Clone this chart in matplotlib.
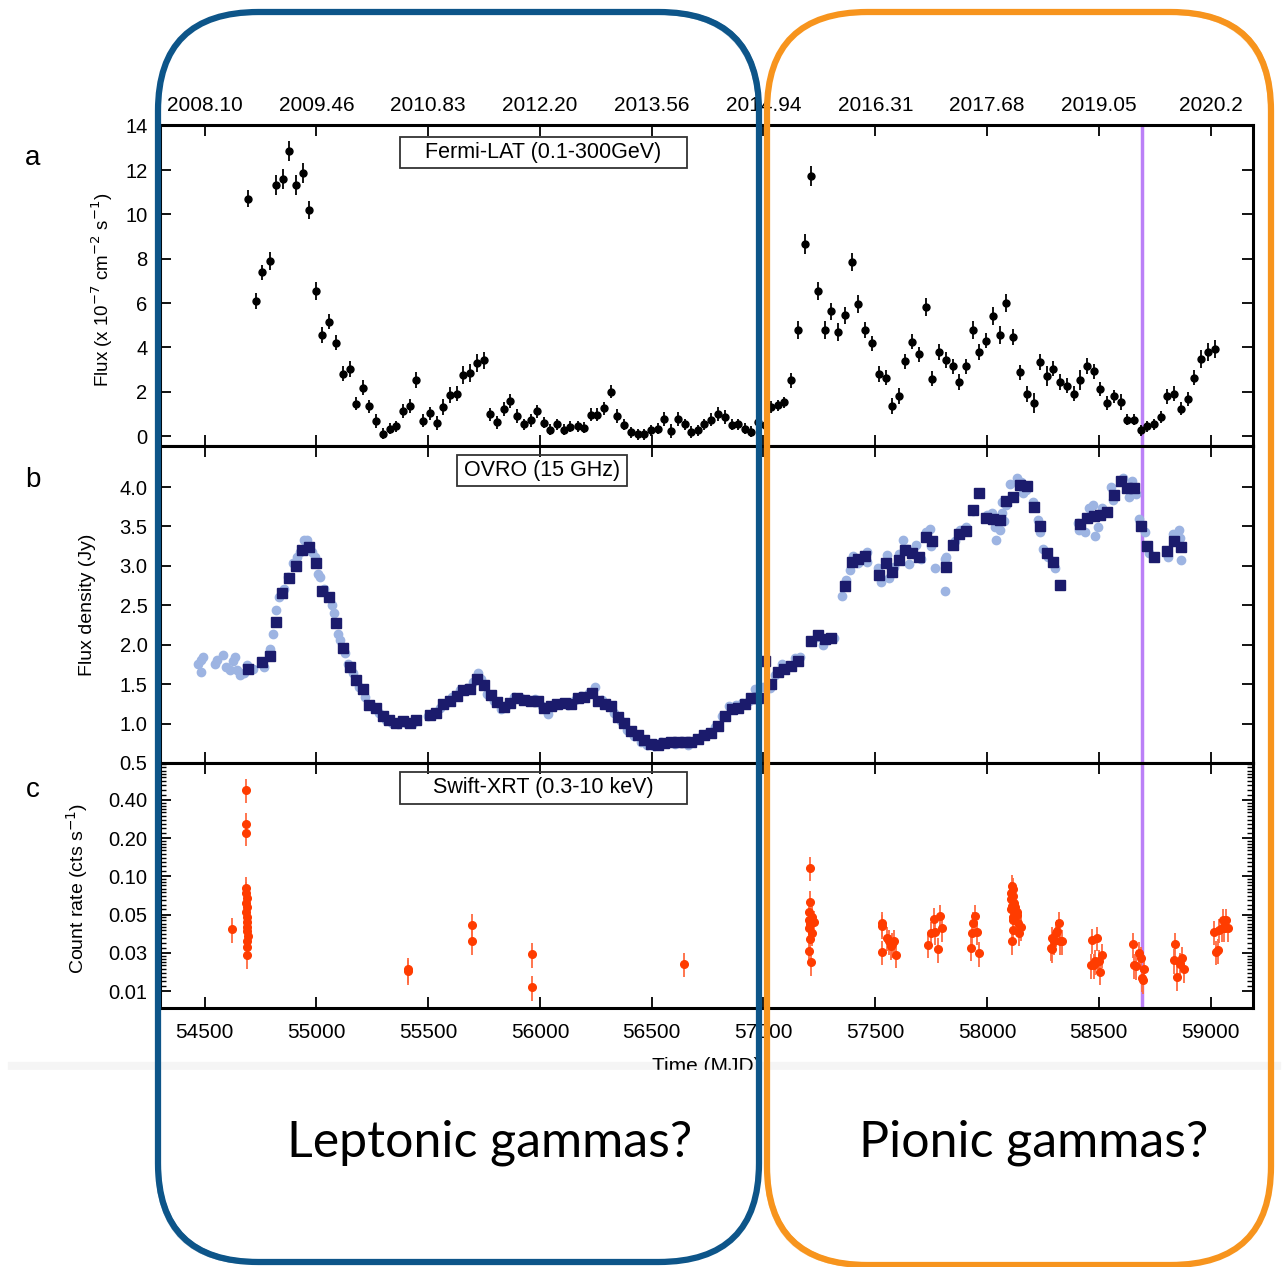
import numpy as np
import matplotlib.pyplot as plt
from matplotlib.patches import FancyBboxPatch, Rectangle
from matplotlib.ticker import FixedLocator, NullFormatter

# ---------------- data ----------------
# Fermi-LAT monthly fluxes (x 1e-7 ph cm^-2 s^-1)
fermi_mjd = [54695, 54728, 54758, 54790, 54819, 54849, 54879, 54909, 54938, 54968,
             54998, 55027, 55057, 55087, 55117, 55148, 55178, 55208, 55237, 55267,
             55297, 55328, 55358, 55388, 55417, 55447, 55477, 55508, 55538, 55568,
             55597, 55627, 55657, 55687, 55718, 55748, 55778, 55807, 55837, 55867,
             55896, 55928, 55958, 55987, 56017, 56047, 56077, 56106, 56136, 56168,
             56197, 56227, 56257, 56286, 56316, 56346, 56376, 56407, 56437, 56467,
             56496, 56526, 56556, 56587, 56617, 56647, 56676, 56706, 56736, 56767,
             56797, 56827, 56857, 56886, 56916, 56946, 56977, 57007,
             57035, 57064, 57093, 57123, 57154, 57184, 57213, 57243, 57274, 57304,
             57335, 57365, 57394, 57424, 57454, 57485, 57515, 57546, 57576, 57605,
             57635, 57665, 57696, 57725, 57755, 57785, 57816, 57846, 57875, 57905,
             57936, 57966, 57996, 58025, 58056, 58086, 58116, 58147, 58177, 58208,
             58236, 58267, 58297, 58327, 58358, 58387, 58417, 58447, 58478, 58507,
             58537, 58567, 58598, 58627, 58657, 58687, 58716, 58747, 58777, 58807,
             58838, 58866, 58897, 58927, 58958, 58988, 59018]
fermi_flux = [10.71, 6.08, 7.38, 7.91, 11.34, 11.59, 12.87, 11.34, 11.85, 10.20,
              6.54, 4.56, 5.16, 4.21, 2.81, 3.02, 1.46, 2.18, 1.34, 0.68,
              0.11, 0.32, 0.44, 1.13, 1.35, 2.53, 0.69, 1.02, 0.59, 1.31,
              1.85, 1.91, 2.75, 2.83, 3.31, 3.41, 0.98, 0.62, 1.22, 1.58,
              0.90, 0.54, 0.71, 1.11, 0.59, 0.29, 0.54, 0.29, 0.41, 0.45,
              0.38, 0.96, 0.96, 1.25, 2.00, 0.90, 0.50, 0.17, 0.08, 0.08,
              0.26, 0.33, 0.77, 0.23, 0.77, 0.54, 0.18, 0.26, 0.53, 0.74,
              0.99, 0.86, 0.50, 0.53, 0.32, 0.20, 0.65, 0.48,
              1.31, 1.38, 1.53, 2.51, 4.77, 8.68, 11.74, 6.54, 4.78, 5.62,
              4.69, 5.44, 7.86, 5.97, 4.78, 4.18, 2.80, 2.63, 1.35, 1.80,
              3.37, 4.26, 3.68, 5.83, 2.59, 3.80, 3.44, 3.14, 2.44, 3.14,
              4.78, 3.80, 4.30, 5.43, 4.56, 6.00, 4.47, 2.87, 1.89, 1.50,
              3.34, 2.72, 3.04, 2.44, 2.27, 1.91, 2.54, 3.16, 2.92, 2.12,
              1.49, 1.79, 1.53, 0.74, 0.74, 0.26, 0.45, 0.53, 0.86, 1.79,
              1.91, 1.23, 1.67, 2.63, 3.49, 3.79, 3.94]
fermi_err = [0.40, 0.35, 0.35, 0.40, 0.45, 0.45, 0.45, 0.45, 0.45, 0.40,
             0.40, 0.35, 0.35, 0.35, 0.35, 0.35, 0.30, 0.35, 0.30, 0.30,
             0.25, 0.25, 0.25, 0.30, 0.30, 0.35, 0.30, 0.30, 0.30, 0.35,
             0.35, 0.35, 0.40, 0.40, 0.40, 0.40, 0.30, 0.30, 0.30, 0.30,
             0.30, 0.25, 0.30, 0.30, 0.25, 0.25, 0.25, 0.25, 0.25, 0.25,
             0.25, 0.30, 0.30, 0.30, 0.30, 0.30, 0.25, 0.25, 0.25, 0.25,
             0.25, 0.25, 0.30, 0.30, 0.30, 0.25, 0.25, 0.25, 0.25, 0.30,
             0.30, 0.30, 0.25, 0.25, 0.25, 0.25, 0.30, 0.30,
             0.25, 0.25, 0.25, 0.35, 0.40, 0.45, 0.45, 0.40, 0.40, 0.40,
             0.40, 0.40, 0.40, 0.40, 0.35, 0.35, 0.35, 0.35, 0.35, 0.35,
             0.35, 0.35, 0.35, 0.40, 0.35, 0.35, 0.35, 0.35, 0.35, 0.35,
             0.40, 0.35, 0.35, 0.40, 0.40, 0.40, 0.35, 0.35, 0.35, 0.45,
             0.35, 0.45, 0.35, 0.35, 0.35, 0.35, 0.45, 0.35, 0.35, 0.30,
             0.30, 0.30, 0.35, 0.25, 0.25, 0.25, 0.25, 0.25, 0.25, 0.35,
             0.35, 0.30, 0.30, 0.35, 0.40, 0.40, 0.40]

# OVRO 15 GHz, binned (dark squares)
ovro_bin_mjd = [54695, 54758, 54790, 54818, 54847, 54877, 54907, 54936, 54968, 54998,
                55027, 55057, 55089, 55118, 55148, 55178, 55208, 55237, 55267, 55298,
                55326, 55358, 55388, 55417, 55447, 55507, 55536, 55566, 55597, 55627,
                55657, 55687, 55720, 55748, 55779, 55809, 55839, 55867, 55898, 55930,
                55962, 55989, 56019, 56049, 56078, 56110, 56140, 56169, 56199, 56231,
                56258, 56290, 56318, 56348, 56377, 56407, 56437, 56467, 56496, 56526,
                56557, 56587, 56617, 56647, 56676, 56706, 56736, 56767, 56795, 56827,
                56857, 56886, 56916, 56946, 56977, 57007, 57035,
                57066, 57093, 57123, 57154, 57213, 57243, 57274, 57304, 57365, 57394,
                57424, 57454, 57515, 57546, 57576, 57605, 57635, 57665, 57696, 57725,
                57755, 57816, 57846, 57875, 57905, 57936, 57966, 57996, 58025, 58056,
                58086, 58116, 58147, 58177, 58208, 58236, 58267, 58297, 58327, 58417,
                58447, 58478, 58507, 58537, 58567, 58598, 58627, 58657, 58687, 58716,
                58747, 58807, 58838, 58866]
ovro_bin_flux = [1.69, 1.78, 1.86, 2.29, 2.66, 2.84, 3.00, 3.20, 3.24, 3.03,
                 2.68, 2.60, 2.27, 1.96, 1.72, 1.55, 1.44, 1.24, 1.20, 1.09,
                 1.04, 1.01, 1.03, 1.01, 1.04, 1.11, 1.14, 1.25, 1.28, 1.35,
                 1.43, 1.44, 1.57, 1.49, 1.36, 1.27, 1.21, 1.26, 1.33, 1.30,
                 1.29, 1.28, 1.20, 1.22, 1.25, 1.26, 1.25, 1.33, 1.34, 1.39,
                 1.28, 1.25, 1.22, 1.08, 1.01, 0.91, 0.86, 0.79, 0.74, 0.73,
                 0.75, 0.76, 0.77, 0.76, 0.76, 0.80, 0.85, 0.88, 0.97, 1.10,
                 1.18, 1.20, 1.25, 1.33, 1.33, 1.79, 1.50,
                 1.65, 1.69, 1.73, 1.79, 2.05, 2.12, 2.07, 2.09, 2.75, 3.05,
                 3.09, 3.12, 2.89, 3.03, 2.92, 3.07, 3.20, 3.16, 3.11, 3.37,
                 3.31, 2.99, 3.27, 3.41, 3.44, 3.71, 3.92, 3.61, 3.59, 3.58,
                 3.82, 3.87, 4.03, 4.01, 3.75, 3.50, 3.16, 3.05, 2.76, 3.53,
                 3.61, 3.63, 3.65, 3.68, 3.90, 4.08, 3.99, 3.99, 3.51, 3.25,
                 3.11, 3.19, 3.31, 3.24]

# OVRO 15 GHz, individual observations (light circles)
ovro_raw_mjd = [54472, 54485, 54494, 54485, 54546, 54556, 54584, 54597, 54615, 54625,
                54634, 54644, 54656, 54676, 54690, 54717, 54764, 54792, 54807, 54820,
                54833, 54857, 54872, 54894, 54913, 54926, 54945, 54959, 54981, 54993,
                55005, 55015, 55033, 55070, 55079, 55098, 55107, 55126, 55141, 55163,
                55191, 55219, 55247, 55278, 55312, 55340, 55367, 55399, 55432, 55497,
                55525, 55553, 55580, 55608, 55642, 55674, 55702, 55724, 55735, 55761,
                55795, 55826, 55854, 55883, 55915, 55947, 55976, 56008, 56036, 56064,
                56095, 56125, 56157, 56185, 56218, 56244, 56278, 56305, 56333, 56361,
                56389, 56422, 56454, 56481, 56509, 56541, 56574, 56602, 56634, 56663,
                56696, 56724, 56752, 56783, 56813, 56844, 56875, 56905, 56933, 56961,
                56998, 57028, 57051, 57081, 57111, 57142, 57164, 57240, 57268, 57316,
                57350, 57369, 57385, 57400, 57423, 57461, 57465, 57511, 57526, 57552,
                57562, 57582, 57605, 57623, 57643, 57653, 57681, 57703, 57726, 57746,
                57749, 57769, 57810, 57810, 57817, 57855, 57878, 57908, 57938, 57999,
                58022, 58037, 58042, 58057, 58068, 58076, 58068, 58083, 58101, 58136,
                58151, 58159, 58174, 58205, 58227, 58235, 58252, 58273, 58303, 58409,
                58412, 58439, 58455, 58473, 58485, 58497, 58516, 58554, 58564, 58607,
                58634, 58649, 58667, 58679, 58705, 58724, 58811, 58834, 58857, 58864,
                58867]
ovro_raw_flux = [1.76, 1.81, 1.85, 1.66, 1.76, 1.81, 1.87, 1.72, 1.68, 1.79,
                 1.85, 1.68, 1.62, 1.64, 1.74, 1.69, 1.72, 1.95, 2.14, 2.44,
                 2.61, 2.71, 2.86, 3.03, 3.11, 3.18, 3.33, 3.33, 3.18, 3.11,
                 2.90, 2.86, 2.71, 2.50, 2.40, 2.14, 2.06, 1.89, 1.76, 1.64,
                 1.47, 1.34, 1.22, 1.13, 1.05, 1.01, 1.00, 1.01, 1.01, 1.09,
                 1.12, 1.20, 1.26, 1.34, 1.43, 1.45, 1.53, 1.64, 1.57, 1.38,
                 1.28, 1.18, 1.24, 1.34, 1.32, 1.28, 1.31, 1.22, 1.12, 1.22,
                 1.26, 1.24, 1.30, 1.35, 1.39, 1.47, 1.30, 1.24, 1.13, 1.03,
                 0.92, 0.84, 0.77, 0.73, 0.72, 0.77, 0.77, 0.74, 0.77, 0.73,
                 0.79, 0.84, 0.88, 0.96, 1.09, 1.22, 1.24, 1.26, 1.28, 1.44,
                 1.47, 1.45, 1.62, 1.76, 1.72, 1.83, 1.85, 2.10, 2.00, 2.08,
                 2.62, 2.82, 2.95, 3.12, 3.03, 3.18, 3.05, 2.97, 2.80, 3.14,
                 2.85, 2.99, 3.15, 3.33, 3.22, 3.02, 3.26, 3.09, 3.43, 3.47,
                 3.25, 2.97, 3.09, 2.68, 3.11, 3.32, 3.45, 3.49, 3.70, 3.64,
                 3.67, 3.49, 3.33, 3.46, 3.67, 3.57, 3.81, 3.77, 4.04, 4.12,
                 4.06, 3.92, 3.96, 3.81, 3.58, 3.43, 3.22, 3.11, 2.97, 3.54,
                 3.46, 3.43, 3.73, 3.77, 3.38, 3.49, 3.73, 4.00, 3.84, 4.11,
                 3.87, 4.08, 3.91, 3.59, 3.43, 3.16, 3.11, 3.41, 3.45, 3.35,
                 3.08]

# Swift-XRT count rates (cts/s)
xrt_mjd = [54621, 54686, 54686, 54686,
           54686, 54686, 54687, 54686, 54688, 54686, 54689, 54687, 54690, 54688,
           54692, 54689, 54690, 54689,
           55408, 55408, 55696, 55696, 55965, 55965, 56645,
           57210, 57210, 57203, 57216, 57203, 57225, 57210, 57203, 57216, 57207,
           57203, 57212,
           57529, 57529, 57529, 57552, 57563, 57575, 57582, 57593, 57570,
           57738, 57749, 57761, 57769, 57779, 57791, 57797,
           57927, 57935, 57939, 57947, 57954, 57962,
           58110, 58115, 58106, 58118, 58109, 58121, 58113, 58125, 58106, 58132,
           58115, 58135, 58118, 58138, 58150, 58118, 58143, 58112,
           58288, 58292, 58300, 58307, 58315, 58322, 58327, 58337, 58292,
           58470, 58477, 58485, 58492, 58500, 58507, 58515, 58467,
           58652, 58656, 58667, 58682, 58689, 58692, 58697, 58704,
           58835, 58843, 58850, 58862, 58873, 58881,
           59017, 59024, 59032, 59039, 59055, 59062, 59070, 59077, 59051]
xrt_rate = [0.0384, 0.48, 0.257, 0.221,
            0.081, 0.074, 0.068, 0.062, 0.057, 0.052, 0.048, 0.044, 0.040, 0.037,
            0.034, 0.031, 0.028, 0.024,
            0.018, 0.0187, 0.0416, 0.031, 0.0244, 0.0135, 0.0205,
            0.117, 0.0625, 0.052, 0.048, 0.045, 0.044, 0.042, 0.039, 0.036, 0.032,
            0.026, 0.021,
            0.0428, 0.041, 0.0256, 0.0329, 0.031, 0.0291, 0.031, 0.0242, 0.0283,
            0.029, 0.0357, 0.0458, 0.0367, 0.0268, 0.0486, 0.0391,
            0.0275, 0.0357, 0.0428, 0.0486, 0.0367, 0.0249,
            0.0838, 0.079, 0.074, 0.070, 0.066, 0.062, 0.058, 0.057, 0.055, 0.052,
            0.048, 0.050, 0.045, 0.043, 0.040, 0.038, 0.036, 0.031,
            0.0275, 0.0329, 0.031, 0.0357, 0.037, 0.0428, 0.031, 0.031, 0.0267,
            0.0316, 0.0201, 0.0214, 0.033, 0.0214, 0.0178, 0.0242, 0.0201,
            0.0294, 0.0201, 0.0196, 0.0249, 0.0228, 0.0159, 0.0153, 0.0185,
            0.0218, 0.0296, 0.0161, 0.0205, 0.0228, 0.0185,
            0.0367, 0.0256, 0.0261, 0.0380, 0.0456, 0.0391, 0.0456, 0.0391, 0.039]
xrt_rel_err = 0.22

# axis ticks / labels
mjd_ticks = [54500, 55000, 55500, 56000, 56500, 57000, 57500, 58000, 58500, 59000]
year_labels = ['2008.10', '2009.46', '2010.83', '2012.20', '2013.56', '2014.94',
               '2016.31', '2017.68', '2019.05', '2020.2']
xrt_ticks = [0.4, 0.2, 0.1, 0.05, 0.025, 0.0125]
xrt_tick_labels = ['0.40', '0.20', '0.10', '0.05', '0.03', '0.01']
marker_mjd = 58695

# ---------------- figure ----------------
plt.rcParams['font.family'] = ['Liberation Sans', 'DejaVu Sans']
W, H = 1288, 1267
fig = plt.figure(figsize=(W / 100, H / 100), dpi=100)


def fx(px):
    return px / W


def fy(py):
    return 1 - py / H


L, R = 160, 1253
ax_a = fig.add_axes([fx(L), fy(446), (R - L) / W, (446 - 125) / H])
ax_b = fig.add_axes([fx(L), fy(763), (R - L) / W, (763 - 446) / H])
ax_c = fig.add_axes([fx(L), fy(1008), (R - L) / W, (1008 - 763) / H])

for ax in (ax_a, ax_b, ax_c):
    ax.set_xlim(54300, 59190)
    ax.set_xticks(mjd_ticks)
    ax.tick_params(direction='in', which='major', length=8, width=1.3,
                   top=True, right=True, labelsize=14.5, pad=9)
    ax.tick_params(direction='in', which='minor', length=4, width=1.0,
                   top=True, right=True)
    for s in ax.spines.values():
        s.set_linewidth(2.2)
    ax.axvline(marker_mjd, color='#bb80f7', lw=2.5, zorder=1.5)

# panel a : Fermi
ax_a.errorbar(fermi_mjd, fermi_flux, yerr=fermi_err, fmt='o', color='black',
              ms=5, elinewidth=1.3, capsize=0, zorder=3)
ax_a.set_ylim(-0.45, 14.03)
ax_a.set_yticks(range(0, 15, 2))
ax_a.set_xticklabels(year_labels)
ax_a.tick_params(axis='x', labeltop=True, labelbottom=False, pad=7, labelsize=15)

# panel b : OVRO
ax_b.plot(ovro_raw_mjd, ovro_raw_flux, 'o', color='#9db4e2', ms=6, zorder=2)
ax_b.plot(ovro_bin_mjd, ovro_bin_flux, 's', color='#1b1b6c', ms=6.5, zorder=3)
ax_b.set_ylim(0.5, 4.52)
ax_b.set_yticks(np.arange(0.5, 4.01, 0.5))
ax_b.set_yticklabels(['%.1f' % v for v in np.arange(0.5, 4.01, 0.5)])
ax_b.tick_params(axis='x', labelbottom=False)

# panel c : Swift-XRT
rate = np.array(xrt_rate)
ax_c.errorbar(xrt_mjd, rate, yerr=rate * xrt_rel_err, fmt='o', color='#ff3c00',
              ecolor='#ff6a40', ms=5.5, elinewidth=1.3, capsize=0, zorder=3)
ax_c.set_yscale('log', base=2)
ax_c.set_ylim(0.0092, 0.78)
ax_c.yaxis.set_major_locator(FixedLocator(xrt_ticks))
ax_c.set_yticklabels(xrt_tick_labels)
minor = [m * f for m in xrt_ticks for f in np.arange(1.1, 2.0, 0.1)]
ax_c.yaxis.set_minor_locator(FixedLocator(minor))
ax_c.yaxis.set_minor_formatter(NullFormatter())
ax_c.tick_params(axis='x', pad=11, labelsize=15)

# instrument boxes
def label_box(ax, x0, x1, y0, y1, text):
    ax.add_patch(Rectangle((x0, y0), x1 - x0, y1 - y0, transform=ax.transAxes,
                           fill=False, ec='#333333', lw=1.3, zorder=4))
    ax.text((x0 + x1) / 2, (y0 + y1) / 2, text, transform=ax.transAxes,
            ha='center', va='center', fontsize=15.5, zorder=4)


label_box(ax_a, 0.2196, 0.4822, 0.866, 0.9626, 'Fermi-LAT (0.1-300GeV)')
label_box(ax_b, 0.2717, 0.4273, 0.874, 0.9716, 'OVRO (15 GHz)')
label_box(ax_c, 0.2196, 0.4822, 0.833, 0.9633, 'Swift-XRT (0.3-10 keV)')

# axis titles and panel letters
fig.text(fx(102), fy(290), r'Flux (x 10$^{-7}$ cm$^{-2}$ s$^{-1}$)', rotation=90,
         ha='center', va='center', fontsize=13.5)
fig.text(fx(88), fy(605), 'Flux density (Jy)', rotation=90,
         ha='center', va='center', fontsize=14)
fig.text(fx(77), fy(888), r'Count rate (cts s$^{-1}$)', rotation=90,
         ha='center', va='center', fontsize=14)
for letter, ypx in (('a', 158), ('b', 480), ('c', 790)):
    fig.text(fx(33), fy(ypx), letter, ha='center', va='center', fontsize=20)

# x title (cut off by the bottom of the original image)
fig.add_artist(Rectangle((fx(8), fy(1070)), (1280 - 8) / W, 8 / H,
                         transform=fig.transFigure, color='#f5f5f5', zorder=0.5))
fig.text(fx(706), fy(1066), 'Time (MJD)', ha='center', va='center', fontsize=15)
fig.add_artist(Rectangle((0, fy(1090)), 1, 20 / H, transform=fig.transFigure,
                         color='white', zorder=4))

# hand drawn boxes
def sketch_box(x0, y0, x1, y1, color):
    for dx, dy, lw, a in ((0, 0, 4.5, 1.0), (1.5, -1.5, 1.2, 0.6), (-2, 2, 1.0, 0.5)):
        p = FancyBboxPatch((fx(x0 + dx), fy(y1 + dy)), (x1 - x0) / W, (y1 - y0) / H,
                           boxstyle='round,pad=0,rounding_size=0.078',
                           transform=fig.transFigure, fill=False, ec=color,
                           lw=lw, alpha=a, zorder=10)
        fig.add_artist(p)


sketch_box(158, 12, 759, 1262, '#0d5589')
sketch_box(767, 12, 1271, 1265, '#f7941d')

fig.text(fx(490), fy(1143), 'Leptonic gammas?', family='Lato', fontsize=36,
         ha='center', va='center')
fig.text(fx(1034), fy(1143), 'Pionic gammas?', family='Lato', fontsize=36,
         ha='center', va='center')

fig.savefig('out.png', dpi=100)
